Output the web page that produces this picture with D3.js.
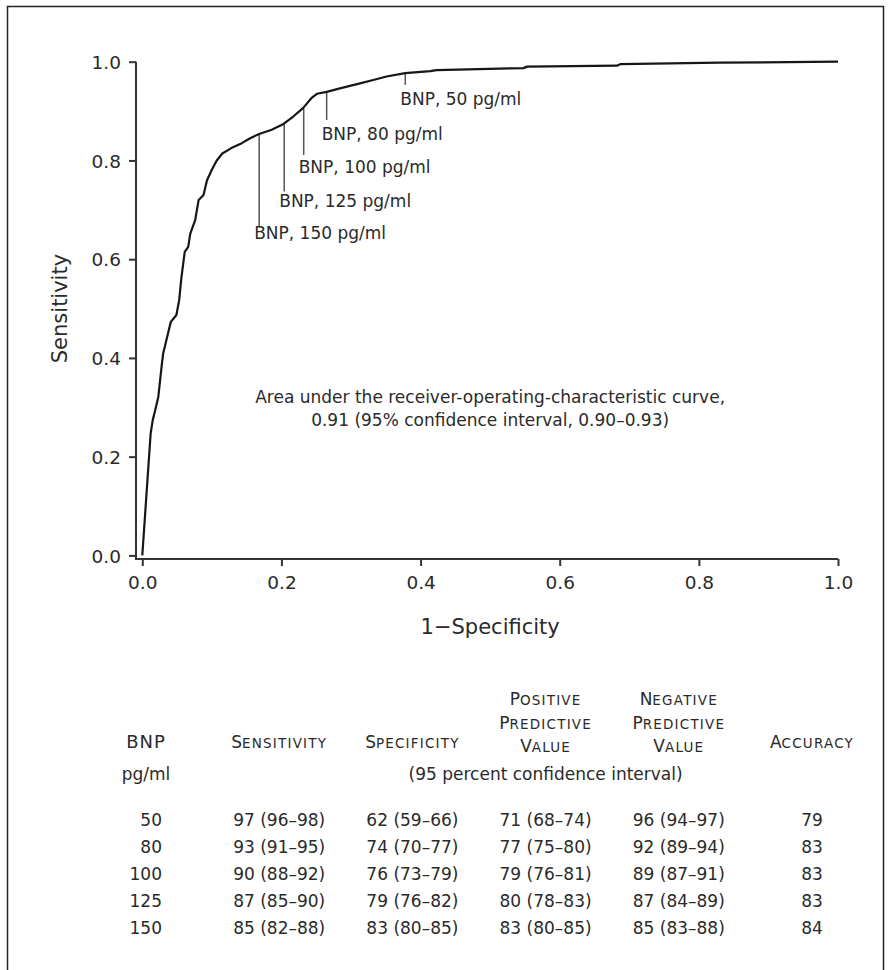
<!DOCTYPE html>
<html>
<head>
<meta charset="utf-8">
<script src="https://cdn.jsdelivr.net/npm/d3@7"></script>
<style>
body { margin: 0; background: #fff; }
svg text { font-family: "DejaVu Sans", sans-serif; fill: #2a2a2a; }
</style>
</head>
<body>
<div id="chart"></div>
<script>
var width = 888;
var height = 970;

// ROC curve: [1 - specificity, sensitivity]
var rocPoints = [
  [0, 0], [0.012, 0.247], [0.015, 0.274], [0.018, 0.291], [0.023, 0.321],
  [0.028, 0.386], [0.030, 0.409], [0.037, 0.45], [0.041, 0.473], [0.049, 0.487],
  [0.053, 0.517], [0.056, 0.56], [0.061, 0.615], [0.066, 0.625], [0.069, 0.652],
  [0.076, 0.679], [0.081, 0.72], [0.088, 0.73], [0.093, 0.76], [0.10, 0.781],
  [0.107, 0.80], [0.115, 0.814], [0.128, 0.825], [0.143, 0.835], [0.155, 0.845],
  [0.167, 0.853], [0.186, 0.862], [0.203, 0.874], [0.217, 0.889], [0.231, 0.906],
  [0.243, 0.926], [0.251, 0.935], [0.265, 0.939], [0.284, 0.946], [0.313, 0.956],
  [0.332, 0.963], [0.351, 0.97], [0.378, 0.977], [0.414, 0.981], [0.423, 0.983],
  [0.548, 0.987], [0.553, 0.99], [0.682, 0.992], [0.687, 0.995], [0.83, 0.998],
  [1.0, 1.0]
];

var xTicks = [0, 0.2, 0.4, 0.6, 0.8, 1.0];
var yTicks = [0, 0.2, 0.4, 0.6, 0.8, 1.0];

// cut-off markers on the curve
var cutoffs = [50, 80, 100, 125, 150];
var cutoffFpr = [0.378, 0.265, 0.232, 0.204, 0.168];
var cutoffLineEnd = [0.953, 0.882, 0.811, 0.737, 0.665];
var cutoffLabelY = [0.912, 0.841, 0.774, 0.706, 0.640];

var aucText = [
  "Area under the receiver-operating-characteristic curve,",
  "0.91 (95% confidence interval, 0.90\u20130.93)"
];

// table values: [estimate, low, high]
var tableHeaders = [["BNP"], ["Sensitivity"], ["Specificity"],
  ["Positive", "Predictive", "Value"], ["Negative", "Predictive", "Value"], ["Accuracy"]];
var bnpLevels = ["50", "80", "100", "125", "150"];
var sensitivity = [[97, 96, 98], [93, 91, 95], [90, 88, 92], [87, 85, 90], [85, 82, 88]];
var specificity = [[62, 59, 66], [74, 70, 77], [76, 73, 79], [79, 76, 82], [83, 80, 85]];
var ppv = [[71, 68, 74], [77, 75, 80], [79, 76, 81], [80, 78, 83], [83, 80, 85]];
var npv = [[96, 94, 97], [92, 89, 94], [89, 87, 91], [87, 84, 89], [85, 83, 88]];
var accuracy = [79, 83, 83, 83, 84];

var svg = d3.select("#chart").append("svg")
  .attr("width", width)
  .attr("height", height);

// frame
svg.append("rect")
  .attr("x", 7.5).attr("y", 6.5)
  .attr("width", 876).attr("height", 1000)
  .attr("fill", "none")
  .attr("stroke", "#222")
  .attr("stroke-width", 1.5);

var x = d3.scaleLinear().domain([0, 1]).range([142.3, 838]);
var y = d3.scaleLinear().domain([0, 1]).range([555.4, 61.7]);
var axisX = 136;   // where the y axis sits
var axisY = 559;   // where the x axis sits

var axisColor = "#333";

var yAxis = svg.append("g")
  .attr("transform", "translate(" + axisX + ",0)")
  .call(d3.axisLeft(y).tickValues(yTicks).tickFormat(d3.format(".1f")).tickSize(7).tickPadding(8));

var xAxis = svg.append("g")
  .attr("transform", "translate(0," + axisY + ")")
  .call(d3.axisBottom(x).tickValues(xTicks).tickFormat(d3.format(".1f")).tickSize(7).tickPadding(10));

[yAxis, xAxis].forEach(function(g) {
  g.select(".domain").remove();
  g.selectAll("line").attr("stroke", axisColor).attr("stroke-width", 2);
  g.selectAll("text")
    .attr("fill", "#2a2a2a")
    .style("font-family", "'DejaVu Sans', sans-serif")
    .style("font-size", "18.5px");
});
yAxis.selectAll("text").attr("dy", "0.36em");

// L-shaped axis lines
svg.append("path")
  .attr("d", "M" + axisX + "," + y(1) + "V" + axisY + "H" + x(1))
  .attr("fill", "none")
  .attr("stroke", axisColor)
  .attr("stroke-width", 2);

// axis titles
svg.append("text")
  .attr("x", (x(0) + x(1)) / 2)
  .attr("y", 634)
  .attr("text-anchor", "middle")
  .style("font-size", "21px")
  .text("1\u2212Specificity");

svg.append("text")
  .attr("transform", "translate(67," + (y(0) + y(1)) / 2 + ") rotate(-90)")
  .attr("text-anchor", "middle")
  .style("font-size", "21px")
  .text("Sensitivity");

// cut-off markers
var curveAt = function(fpr) {
  var xs = rocPoints.map(function(p) { return p[0]; });
  var i = d3.bisectRight(xs, fpr);
  var a = rocPoints[i - 1], b = rocPoints[i];
  return a[1] + (b[1] - a[1]) * (fpr - a[0]) / (b[0] - a[0]);
};

var markers = svg.append("g").selectAll("g")
  .data(cutoffs)
  .enter().append("g");

markers.append("line")
  .attr("x1", function(d, i) { return x(cutoffFpr[i]); })
  .attr("x2", function(d, i) { return x(cutoffFpr[i]); })
  .attr("y1", function(d, i) { return y(curveAt(cutoffFpr[i])); })
  .attr("y2", function(d, i) { return y(cutoffLineEnd[i]); })
  .attr("stroke", "#555")
  .attr("stroke-width", 1.5);

markers.append("text")
  .attr("x", function(d, i) { return x(cutoffFpr[i]) - 5; })
  .attr("y", function(d, i) { return y(cutoffLabelY[i]); })
  .style("font-size", "17px")
  .text(function(d) { return "BNP, " + d + " pg/ml"; });

// ROC curve
var line = d3.line()
  .x(function(d) { return x(d[0]); })
  .y(function(d) { return y(d[1]); });

svg.append("path")
  .datum(rocPoints)
  .attr("d", line)
  .attr("fill", "none")
  .attr("stroke", "#161616")
  .attr("stroke-width", 2.2)
  .attr("stroke-linejoin", "round");

// area under curve note
svg.append("g").selectAll("text")
  .data(aucText)
  .enter().append("text")
  .attr("x", (x(0) + x(1)) / 2)
  .attr("y", function(d, i) { return 403 + i * 23; })
  .attr("text-anchor", "middle")
  .style("font-size", "17px")
  .text(function(d) { return d; });

// ---- table ----
var col = d3.scalePoint().domain(d3.range(6)).range([146, 812]);
var row = d3.scalePoint().domain(d3.range(bnpLevels.length)).range([826, 934]);

function smallCaps(text, word) {
  text.append("tspan").style("font-size", "17px").text(word.charAt(0).toUpperCase());
  text.append("tspan").style("font-size", "13.5px").style("letter-spacing", "1.2px")
    .text(word.slice(1).toUpperCase());
}

var header = svg.append("g");
tableHeaders.forEach(function(lines, c) {
  var base = lines.length > 1 ? 752 : 748;
  lines.forEach(function(word, i) {
    var t = header.append("text")
      .attr("x", col(c))
      .attr("y", base - (lines.length - 1 - i) * 23.5)
      .attr("text-anchor", "middle");
    if (c === 0) {
      t.style("font-size", "18px").style("letter-spacing", "1px").text(word);
    } else {
      smallCaps(t, word);
    }
  });
});

header.append("text")
  .attr("x", col(0))
  .attr("y", 780)
  .attr("text-anchor", "middle")
  .style("font-size", "17px")
  .text("pg/ml");

header.append("text")
  .attr("x", (col(2) + col(4)) / 2)
  .attr("y", 780)
  .attr("text-anchor", "middle")
  .style("font-size", "17px")
  .text("(95 percent confidence interval)");

function ci(d) { return d[0] + " (" + d[1] + "\u2013" + d[2] + ")"; }

var body = svg.append("g").style("font-size", "17px");
var columns = [sensitivity, specificity, ppv, npv];

bnpLevels.forEach(function(level, r) {
  body.append("text")
    .attr("x", col(0) + 16)
    .attr("y", row(r))
    .attr("text-anchor", "end")
    .text(level);
  columns.forEach(function(values, c) {
    body.append("text")
      .attr("x", col(c + 1))
      .attr("y", row(r))
      .attr("text-anchor", "middle")
      .text(ci(values[r]));
  });
  body.append("text")
    .attr("x", col(5))
    .attr("y", row(r))
    .attr("text-anchor", "middle")
    .text(accuracy[r]);
});
</script>
</body>
</html>
